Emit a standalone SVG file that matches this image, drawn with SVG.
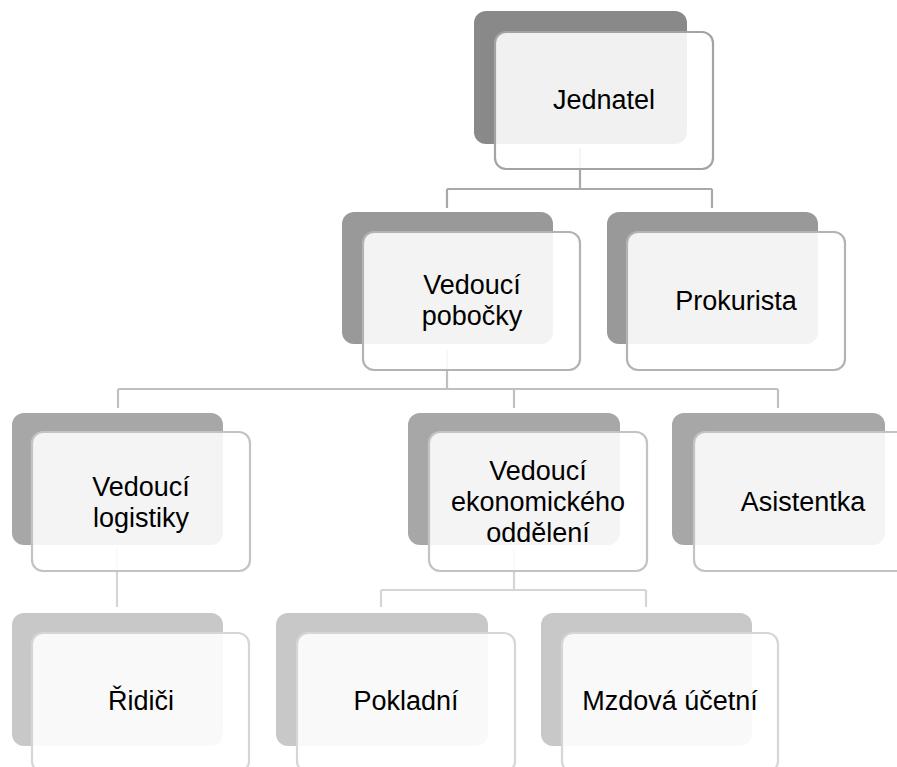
<svg xmlns="http://www.w3.org/2000/svg" width="897" height="767" viewBox="0 0 897 767">
<style>
.b1{fill:#898989}.b2{fill:#999999}.b3{fill:#a7a7a7}.b4{fill:#c8c8c8}
.f{fill:#ffffff;fill-opacity:0.88;stroke-width:2.2}
.f1{stroke:#a3a3a3}.f2{stroke:#b3b3b3}.f3{stroke:#c3c3c3}.f4{stroke:#d6d6d6}
.c{fill:none;stroke-width:2.2}
.c1{stroke:#a9a9a9}.c2{stroke:#c0c0c0}.c3{stroke:#d5d5d5}
text{font-family:"Liberation Sans",Arial,sans-serif;font-size:27px;fill:#000;text-anchor:middle}
</style>
<g id="connectors">
<path class="c c1" d="M580,148V189M447,189H712M447,189V208M712,189V208"/>
<path class="c c2" d="M447,350V389M118,389H778M118,389V408M514,389V408M778,389V408"/>
<path class="c c3" d="M117,549V607M514,549V590M381,590H646M381,590V607M646,590V607"/>
</g>
<g id="jednatel">
<rect class="b1" x="474" y="11" width="213" height="133" rx="12"/>
<rect class="f f1" x="495" y="32" width="218" height="137" rx="11"/>
<text x="604" y="109">Jednatel</text>
</g>
<g id="vedouci-pobocky">
<rect class="b2" x="342" y="212" width="211" height="132" rx="12"/>
<rect class="f f2" x="363" y="232" width="217" height="138" rx="11"/>
<text x="472" y="294">Vedoucí</text>
<text x="472" y="325">pobočky</text>
</g>
<g id="prokurista">
<rect class="b2" x="607" y="212" width="211" height="132" rx="12"/>
<rect class="f f2" x="627" y="232" width="218" height="138" rx="11"/>
<text x="736" y="310">Prokurista</text>
</g>
<g id="vedouci-logistiky">
<rect class="b3" x="12" y="413" width="211" height="132" rx="12"/>
<rect class="f f3" x="32" y="432" width="218" height="139" rx="11"/>
<text x="141" y="496">Vedoucí</text>
<text x="141" y="527">logistiky</text>
</g>
<g id="vedouci-ekonomickeho">
<rect class="b3" x="408" y="413" width="212" height="132" rx="12"/>
<rect class="f f3" x="429" y="432" width="218" height="139" rx="11"/>
<text x="538" y="480">Vedoucí</text>
<text x="538" y="511">ekonomického</text>
<text x="538" y="542">oddělení</text>
</g>
<g id="asistentka">
<rect class="b3" x="672" y="413" width="213" height="132" rx="12"/>
<rect class="f f3" x="694" y="432" width="218" height="139" rx="11"/>
<text x="803" y="511">Asistentka</text>
</g>
<g id="ridici">
<rect class="b4" x="12" y="613" width="211" height="133" rx="12"/>
<rect class="f f4" x="32" y="633" width="217" height="139" rx="11"/>
<text x="141" y="710">Řidiči</text>
</g>
<g id="pokladni">
<rect class="b4" x="276" y="613" width="212" height="133" rx="12"/>
<rect class="f f4" x="297" y="633" width="218" height="139" rx="11"/>
<text x="406" y="710">Pokladní</text>
</g>
<g id="mzdova-ucetni">
<rect class="b4" x="541" y="613" width="211" height="133" rx="12"/>
<rect class="f f4" x="562" y="633" width="216" height="139" rx="11"/>
<text x="670" y="710">Mzdová účetní</text>
</g>
</svg>
